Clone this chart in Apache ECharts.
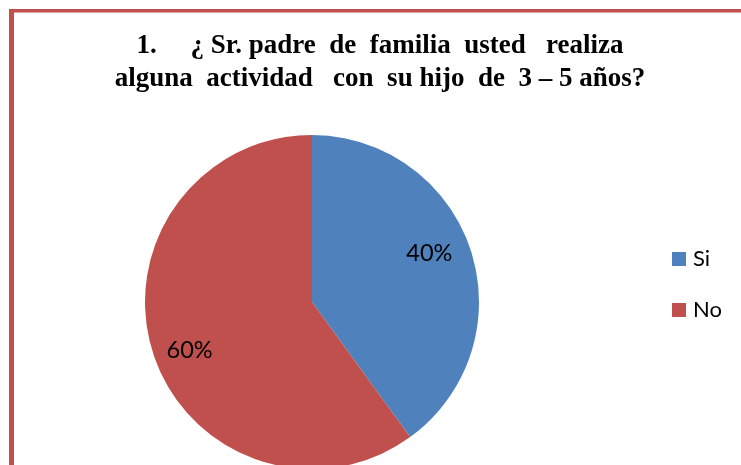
<!DOCTYPE html>
<html>
<head>
<meta charset="utf-8">
<script src="https://cdn.jsdelivr.net/npm/echarts@6/dist/echarts.min.js"></script>
<style>
  html, body { margin: 0; padding: 0; background: #fff; }
  #chart { width: 741px; height: 465px; }
</style>
</head>
<body>
<div id="chart"></div>
<script>
// chart data
const categories = ['Si', 'No'];
const values = [40, 60];
const colors = ['#4F81BD', '#C0504D'];
const titleLines = [
  '1.     ¿ Sr. padre  de  familia  usted   realiza',
  'alguna  actividad   con  su hijo  de  3 – 5 años?'
];

const pieData = categories.map((name, i) => ({
  name: name,
  value: values[i],
  itemStyle: { color: colors[i] }
}));

// small nudges so the labels sit where Excel put them
const labelPad = [[12, 10, 0, 0], [0, 0, 0, 0]];

const chart = echarts.init(document.getElementById('chart'));
chart.setOption({
  animation: false,
  graphic: [
    // frame of the chart area (left + top edges visible)
    { type: 'rect', shape: { x: 9, y: 9, width: 5, height: 470 }, style: { fill: '#C0504D' } },
    { type: 'rect', shape: { x: 9, y: 9, width: 740, height: 3.5 }, style: { fill: '#C0504D' } },
    {
      type: 'text',
      style: {
        x: 380, y: 30,
        text: titleLines.join('\n'),
        font: 'bold 27px "Liberation Serif", "Times New Roman", serif',
        fill: '#000',
        align: 'center',
        lineHeight: 33
      }
    }
  ],
  legend: {
    orient: 'vertical',
    left: 672,
    top: 248,
    padding: 0,
    itemWidth: 14,
    itemHeight: 14,
    itemGap: 29,
    icon: 'rect',
    data: categories,
    textStyle: { fontFamily: 'Lato', fontSize: 22, color: '#000', padding: [0, 0, 0, 2] }
  },
  series: [
    {
      type: 'pie',
      center: [312, 302],
      radius: [0, 167],
      startAngle: 90,
      clockwise: true,
      label: { show: false },
      labelLine: { show: false },
      emphasis: { disabled: true },
      data: pieData
    },
    {
      // transparent ring, only used to place the percentage labels further out
      type: 'pie',
      center: [312, 302],
      radius: [90, 167],
      startAngle: 93.5,
      clockwise: true,
      silent: true,
      itemStyle: { color: 'rgba(0,0,0,0)' },
      label: {
        show: true,
        position: 'inside',
        formatter: '{d}%',
        fontFamily: 'Lato',
        fontSize: 23.5,
        color: '#000'
      },
      labelLine: { show: false },
      emphasis: { disabled: true },
      data: categories.map((name, i) => ({
        name: name,
        value: values[i],
        label: { padding: labelPad[i] }
      }))
    }
  ]
});
</script>
</body>
</html>
